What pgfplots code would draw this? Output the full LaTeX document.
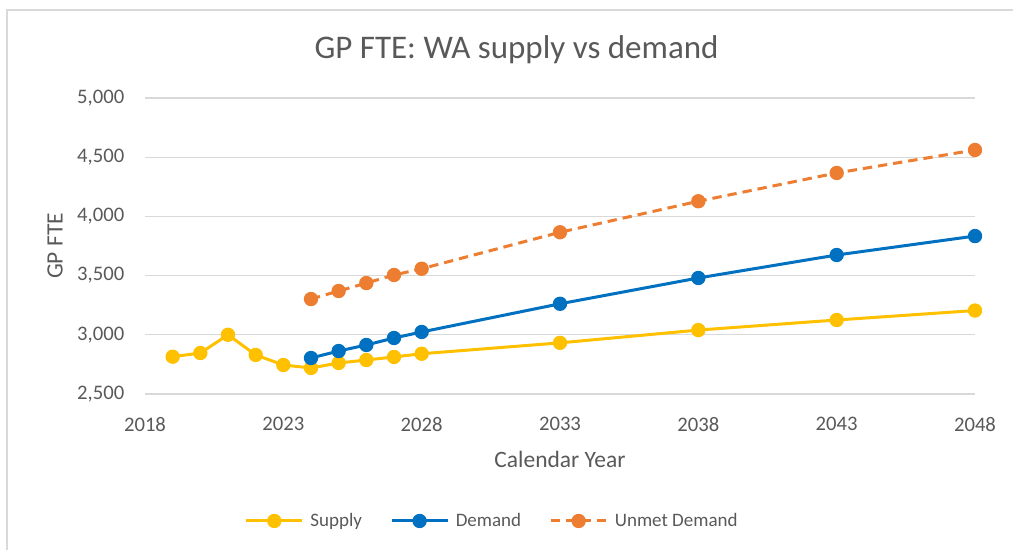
\documentclass[border=0pt]{standalone}
\usepackage{fontspec}
\setmainfont{Carlito}
\usepackage{pgfplots}
\pgfplotsset{compat=1.18}
\definecolor{txt}{HTML}{595959}
\definecolor{grd}{HTML}{D9D9D9}
\definecolor{sup}{HTML}{FFC000}
\definecolor{dem}{HTML}{0070C0}
\definecolor{unm}{HTML}{ED7D31}
\begin{document}
\begin{tikzpicture}
\path[use as bounding box] (0,0) rectangle (759.75pt,412.5pt);
\draw[grd, line width=1.5pt] (4.5pt,405pt) -- (759.75pt,405pt);
\draw[grd, line width=1.5pt] (5.25pt,0pt) -- (5.25pt,405pt);
\node[txt, font=\fontsize{24.75pt}{28pt}\selectfont, anchor=center] at (387.4pt,375.5pt) {GP FTE: WA supply vs demand};
\begin{axis}[
  at={(108.75pt,117pt)}, anchor=south west,
  scale only axis, width=622.5pt, height=222pt,
  xmin=2018, xmax=2048, ymin=2500, ymax=5000,
  xtick={2018,2023,...,2048},
  ytick={2500,3000,...,5000},
  axis line style={draw=none},
  major tick length=0pt,
  ymajorgrids, grid style={grd, line width=1pt},
  clip=false,
  /pgf/number format/assume math mode=true,
  ticklabel style={txt, font=\fontsize{15.5pt}{18pt}\selectfont},
  xticklabel style={/pgf/number format/1000 sep={}, yshift=-14pt},
  yticklabel style={/pgf/number format/1000 sep={,}, xshift=-12pt},
  xlabel={Calendar Year},
  ylabel={GP FTE},
  label style={txt, font=\fontsize{17.6pt}{20pt}\selectfont},
  xlabel style={at={(axis description cs:0.5,-0.2196)}, anchor=center},
  ylabel style={at={(axis description cs:-0.1084,0.5)}, anchor=center},
  legend columns=3,
  legend style={at={(axis description cs:0.4187,-0.429)}, anchor=center, draw=none, fill=none,
    font=\fontsize{14.25pt}{17pt}\selectfont, text=txt,
    /tikz/every even column/.append style={column sep=19pt},
    /tikz/every odd column/.append style={column sep=3pt}},
  legend image code/.code={\draw[mark repeat=2,mark phase=2,#1] plot coordinates {(0pt,0pt) (21pt,0pt) (42pt,0pt)};},
  every axis plot/.append style={line width=2.25pt, mark=*, mark size=5pt},
]
\addplot[sup, mark options={fill=sup, draw=sup, line width=0.75pt}] coordinates {
(2019,2815) (2020,2846) (2021,3000) (2022,2830) (2023,2745) (2024,2720) (2025,2762) (2026,2787) (2027,2813) (2028,2840) (2033,2932) (2038,3040) (2043,3125) (2048,3205)};
\addlegendentry{Supply}
\addplot[dem, mark options={fill=dem, draw=dem, line width=0.75pt}] coordinates {
(2024,2804) (2025,2863) (2026,2914) (2027,2973) (2028,3024) (2033,3262) (2038,3480) (2043,3674) (2048,3834)};
\addlegendentry{Demand}
\addplot[unm, dash pattern=on 7pt off 4.5pt, mark options={solid, fill=unm, draw=unm, line width=0.75pt}] coordinates {
(2024,3302) (2025,3370) (2026,3437) (2027,3505) (2028,3558) (2033,3866) (2038,4128) (2043,4367) (2048,4561)};
\addlegendentry{Unmet Demand}
\end{axis}
\end{tikzpicture}
\end{document}
